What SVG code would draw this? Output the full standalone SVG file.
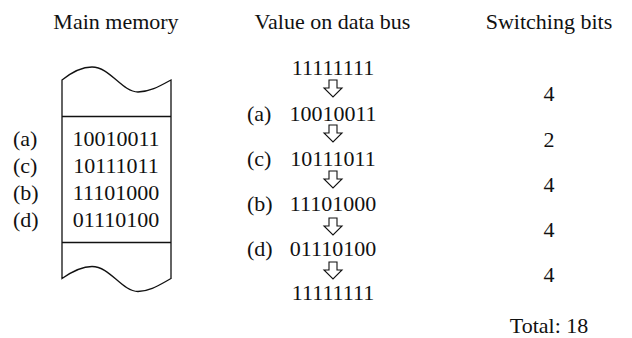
<svg xmlns="http://www.w3.org/2000/svg" width="632" height="338" viewBox="0 0 632 338">
  <defs>
    <style>
      text { font-family: "Liberation Serif", "Times New Roman", serif; font-size: 22px; fill: #111; }
      .mid { text-anchor: middle; }
      .line { fill: none; stroke: #111; stroke-width: 1.3; }
      .arrow { fill: #fff; stroke: #111; stroke-width: 1.1; stroke-linejoin: miter; }
    </style>
    <!-- hollow block arrow pointing down, top at y=0 -->
    <path id="down" class="arrow" d="M-4,0 H4 V8 H9 L0,17 L-9,8 H-4 Z"/>
  </defs>

  <!-- column headings -->
  <g id="headings">
    <text class="mid" x="116" y="29">Main memory</text>
    <text class="mid" x="332.5" y="29">Value on data bus</text>
    <text class="mid" x="549" y="29">Switching bits</text>
  </g>

  <!-- memory block with torn top and bottom edges -->
  <g id="memory">
    <path class="line" d="M62,80 C72,72 82,67 92,67 C110,67 122,92 138,92 C150,92 160,86 171,80 V278.5 C160,284.5 150,291.5 138,291.5 C122,291.5 110,266.5 92,266.5 C82,266.5 72,271.5 62,278.5 Z"/>
    <line class="line" x1="62" y1="116.5" x2="171" y2="116.5"/>
    <line class="line" x1="62" y1="242.5" x2="171" y2="242.5"/>
    <text x="13" y="146">(a)</text>
    <text x="13" y="173">(c)</text>
    <text x="13" y="200">(b)</text>
    <text x="13" y="227">(d)</text>
    <text class="mid" x="116" y="146">10010011</text>
    <text class="mid" x="116" y="173">10111011</text>
    <text class="mid" x="116" y="200">11101000</text>
    <text class="mid" x="116" y="227">01110100</text>
  </g>

  <!-- sequence of values driven onto the bus -->
  <g id="bus-values">
    <text class="mid" x="333" y="75">11111111</text>
    <text x="247" y="121">(a)</text>
    <text class="mid" x="333" y="121">10010011</text>
    <text x="247" y="166">(c)</text>
    <text class="mid" x="333" y="166">10111011</text>
    <text x="247" y="211">(b)</text>
    <text class="mid" x="333" y="211">11101000</text>
    <text x="247" y="256">(d)</text>
    <text class="mid" x="333" y="256">01110100</text>
    <text class="mid" x="333" y="300">11111111</text>
  </g>

  <!-- transitions between successive bus values -->
  <g id="connectors">
    <use href="#down" x="333" y="80"/>
    <use href="#down" x="333" y="125"/>
    <use href="#down" x="333" y="171"/>
    <use href="#down" x="333" y="218"/>
    <use href="#down" x="333" y="262"/>
  </g>

  <!-- bit flips per transition -->
  <g id="switching-bits">
    <text class="mid" x="549" y="101">4</text>
    <text class="mid" x="549" y="147">2</text>
    <text class="mid" x="549" y="192">4</text>
    <text class="mid" x="549" y="237">4</text>
    <text class="mid" x="549" y="282">4</text>
    <text class="mid" x="549" y="333">Total: 18</text>
  </g>
</svg>
